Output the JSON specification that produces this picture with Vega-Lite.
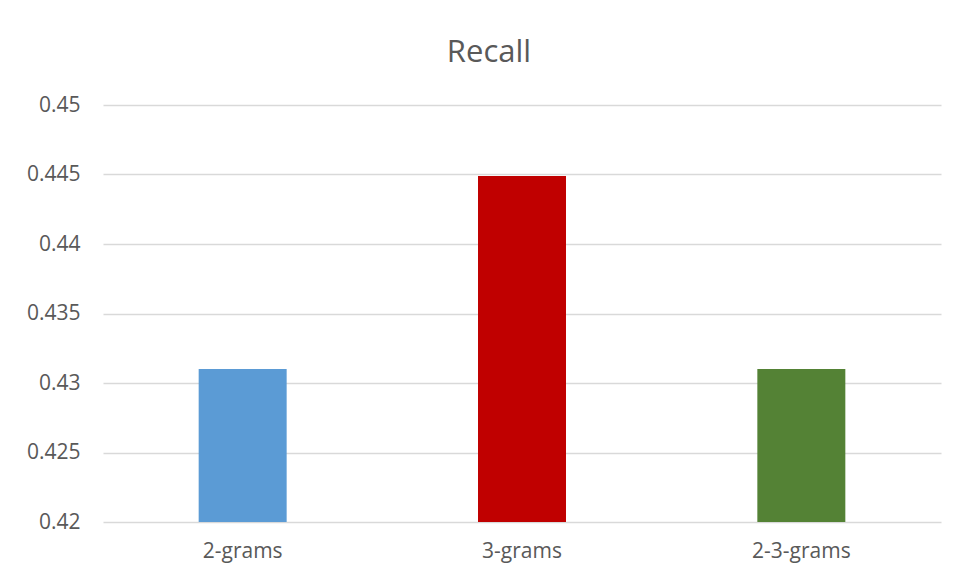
{
  "$schema": "https://vega.github.io/schema/vega-lite/v6.json",
  "autosize": "none",
  "width": 838,
  "height": 417,
  "padding": {"left": 103, "top": 105, "right": 16, "bottom": 58},
  "background": "#ffffff",
  "title": {
    "text": "Recall",
    "font": "Open Sans",
    "fontSize": 31,
    "fontWeight": "normal",
    "color": "#595959",
    "anchor": "middle",
    "dx": -33,
    "offset": 25
  },
  "data": {
    "values": [
      {"ngram": "2-grams", "recall": 0.431},
      {"ngram": "3-grams", "recall": 0.4449},
      {"ngram": "2-3-grams", "recall": 0.431}
    ]
  },
  "mark": {"type": "bar", "clip": true},
  "encoding": {
    "x": {
      "field": "ngram",
      "type": "nominal",
      "sort": null,
      "scale": {"paddingInner": 0.685, "paddingOuter": 0.3425},
      "axis": {
        "title": null,
        "labelAngle": 0,
        "labelFont": "Open Sans",
        "labelFontSize": 21,
        "labelColor": "#595959",
        "labelPadding": 18,
        "ticks": false,
        "domain": false,
        "grid": false
      }
    },
    "y": {
      "field": "recall",
      "type": "quantitative",
      "scale": {"domain": [0.42, 0.45], "zero": false, "nice": false},
      "axis": {
        "title": null,
        "values": [0.42, 0.425, 0.43, 0.435, 0.44, 0.445, 0.45],
        "format": ".3~f",
        "labelFont": "Open Sans",
        "labelFontSize": 21,
        "labelColor": "#595959",
        "labelPadding": 23,
        "ticks": false,
        "domain": false,
        "grid": true,
        "gridColor": "#D9D9D9",
        "gridWidth": 1.5
      }
    },
    "color": {
      "field": "ngram",
      "type": "nominal",
      "sort": null,
      "scale": {
        "domain": ["2-grams", "3-grams", "2-3-grams"],
        "range": ["#5B9BD5", "#C00000", "#548235"]
      },
      "legend": null
    }
  },
  "config": {
    "view": {"stroke": null}
  }
}
